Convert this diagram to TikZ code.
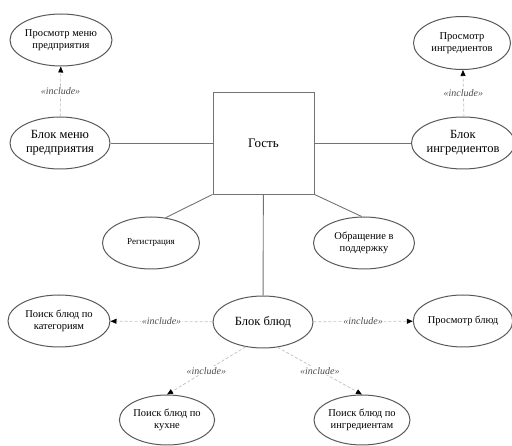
\documentclass[tikz,border=0pt]{standalone}
\usepackage{fontspec}
\setmainfont{Liberation Serif}
\usetikzlibrary{shapes.geometric,arrows.meta}
\begin{document}
\begin{tikzpicture}[x=1pt,y=-1pt,
  uc/.style={ellipse,draw=black!65,line width=1pt,inner sep=0pt,align=center,minimum width=97pt,minimum height=52pt,font=\fontsize{10.5}{12}\selectfont},
  ucbig/.style={uc,font=\fontsize{12.5}{14}\selectfont},
  assoc/.style={draw=black!55,line width=0.9pt},
  incl/.style={draw=black!25,line width=0.7pt,densely dashed,-{Triangle[length=6pt,width=5pt,black]}},
  lbl/.style={fill=white,inner sep=1pt,text=black!70,font=\itshape\fontsize{10}{11}\selectfont}]
\useasboundingbox (0,0) rectangle (512,446);
\node[draw=black!55,line width=0.9pt,minimum width=101pt,minimum height=102pt,font=\fontsize{13}{15}\selectfont] (guest) at (263.5,143) {Гость};
\node[uc] (pmenu) at (61,40) {Просмотр меню\\предприятия};
\node[ucbig,minimum width=100pt] (bmenu) at (60,143) {Блок меню\\предприятия};
\node[uc,minimum width=97pt,minimum height=53pt] (ping) at (462,43) {Просмотр\\ингредиентов};
\node[ucbig,minimum width=96pt] (bing) at (463,143) {Блок\\ингредиентов};
\node[uc,font=\fontsize{9}{11}\selectfont] (reg) at (151,243) {Регистрация};
\node[uc,minimum width=101pt] (supp) at (364,243) {Обращение в\\поддержку};
\node[ucbig,minimum width=100pt] (bdish) at (263,322) {Блок блюд};
\node[uc,minimum width=102pt] (cat) at (59,321) {Поиск блюд по\\категориям};
\node[uc,minimum width=96pt] (view) at (463,321) {Просмотр блюд};
\node[uc,minimum width=94pt,minimum height=50pt] (kitchen) at (167,420) {Поиск блюд по\\кухне};
\node[uc,minimum width=96pt,minimum height=50pt] (ingr) at (362,420) {Поиск блюд по\\ингредиентам};
% associations
\draw[assoc] (bmenu) -- (guest);
\draw[assoc] (guest) -- (bing);
\draw[assoc] (guest.south west) -- (reg.60);
\draw[assoc] (guest.south east) -- (supp.95);
\draw[assoc] (guest) -- (bdish);
% includes
\draw[incl] (bmenu) -- node[lbl]{«include»} (pmenu);
\draw[incl] (bing.88) -- node[lbl]{«include»} (ping.272);
\draw[incl] (bdish) -- node[lbl]{«include»} (cat);
\draw[incl] (bdish) -- node[lbl]{«include»} (view);
\draw[incl] (bdish.235) -- node[lbl]{«include»} (kitchen.90);
\draw[incl] (bdish.300) -- node[lbl]{«include»} (ingr.90);
\end{tikzpicture}
\end{document}
